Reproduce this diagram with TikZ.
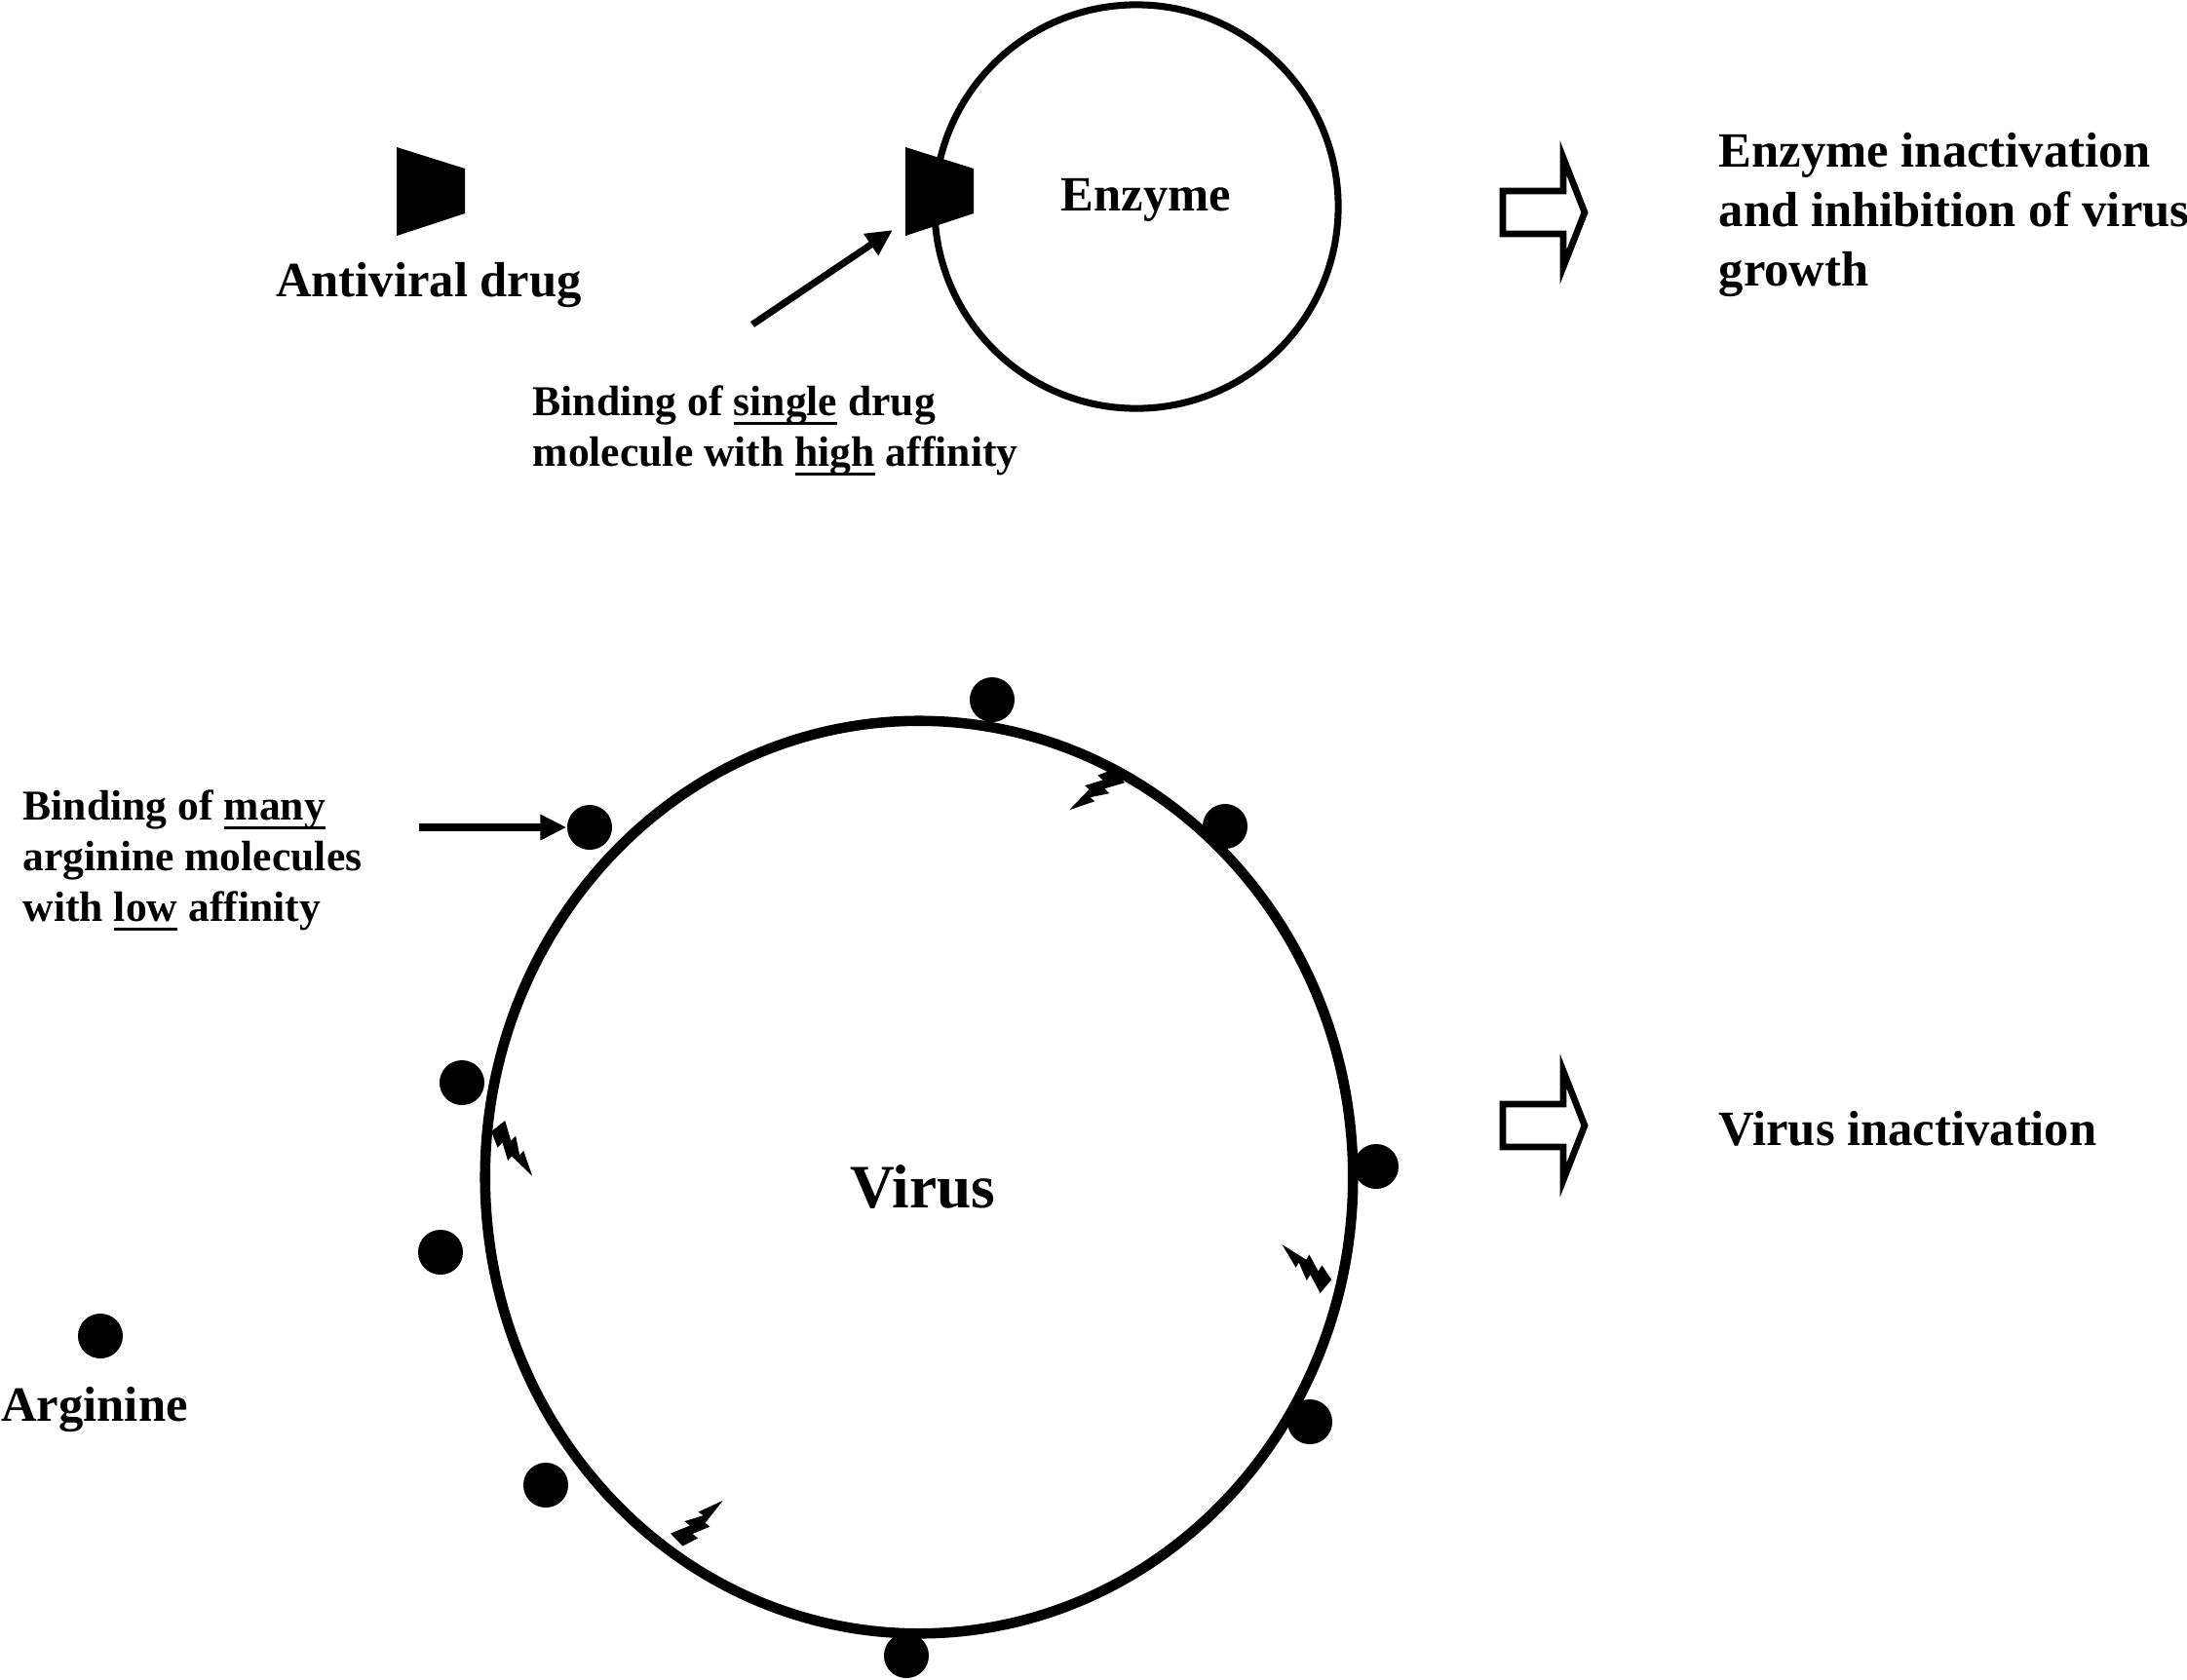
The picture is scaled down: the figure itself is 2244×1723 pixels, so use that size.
\documentclass[tikz,border=0pt]{standalone}
\usepackage{fontspec}
\setmainfont{Liberation Serif}
\usetikzlibrary{arrows.meta,shapes.geometric}
\newcommand{\myul}[1]{\setbox0\hbox{#1}\rlap{\vrule width\wd0 height -0.15em depth 0.21em}#1}
\begin{document}
\begin{tikzpicture}[x=0.01cm,y=-0.01cm,
  lbl/.style={font=\bfseries\fontsize{14.4}{17.3}\selectfont, inner sep=0},
  note/.style={font=\bfseries\fontsize{12.4}{14.8}\selectfont, inner sep=0, align=left},
  bigt/.style={font=\bfseries\fontsize{18}{21}\selectfont, inner sep=0},
  dot/.style={circle, fill=black, minimum size=0.46cm, inner sep=0},
  ptr/.style={line width=2pt, -{Triangle[length=0.27cm,width=0.25cm]}},
  hollow/.pic={\draw[line width=1.9pt, miter limit=10, fill=white]
      (-84,-22) -- (-22,-22) -- (-22,-56) -- (0,0) -- (-22,56) -- (-22,22) -- (-84,22) -- cycle;},
  drug/.pic={\fill (0,0) -- (70,22) -- (70,68) -- (0,91) -- cycle;},
  bolt/.pic={\fill (0cm,0.13cm) -- (0.2cm,0.05cm) -- (0.19cm,0.12cm) -- (0.37cm,0.03cm) -- (0.36cm,0.09cm)
      -- (0.62cm,0cm) -- (0.33cm,-0.04cm) -- (0.34cm,-0.1cm) -- (0.16cm,-0.03cm) -- (0.17cm,-0.1cm)
      -- (0cm,-0.05cm) -- cycle;}
  ]
\useasboundingbox (0,0) rectangle (2244,1723);

% ---------- top row ----------
\pic (freedrug) at (407,151) {drug};
\node[lbl] (antiviral) at (440,293) {Antiviral drug};

\node[circle, draw, line width=2pt, minimum size=4.14cm, inner sep=0] (enzyme) at (1166,212) {};
\node[lbl] (enzymelbl) at (1176,205) {Enzyme};
\pic (bounddrug) at (929,151) {drug};
\coordinate (boundtip) at (916,236);
\coordinate (drugarrstart) at (772,333);
\draw[ptr] (drugarrstart) -- (boundtip);

\node[note, anchor=north west] (single) at (546,395)
  {Binding of \myul{single} drug\\molecule with \myul{high} affinity};

\pic (arrowtop) at (1626,218) {hollow};
\node[lbl, anchor=north west, align=left] (enzres) at (1763,136)
  {Enzyme inactivation\\and inhibition of virus\\growth};

% ---------- bottom row ----------
\node[ellipse, draw, line width=3pt, minimum width=8.9cm, minimum height=9.36cm, inner sep=0] (virus) at (943,1208) {};
\node[bigt] (viruslbl) at (947,1218) {Virus};

\node[dot] (d1) at (1018,718) {};
\node[dot] (d2) at (1257,848) {};
\node[dot] (d3) at (605,849) {};
\node[dot] (d4) at (474,1111) {};
\node[dot] (d5) at (1412,1197) {};
\node[dot] (d6) at (452,1285) {};
\node[dot] (d7) at (1344,1459) {};
\node[dot] (d8) at (560,1524) {};
\node[dot] (d9) at (930,1699) {};
\node[dot] (arg) at (103,1371) {};
\node[lbl] (arglbl) at (97,1446) {Arginine};

\pic[rotate=218] at (1146,793) {bolt};
\pic[rotate=-52] at (508,1158) {bolt};
\pic[rotate=140] at (1363,1317) {bolt};
\pic[rotate=44] at (697,1583) {bolt};

\node[note, anchor=north west] (many) at (23,810)
  {Binding of \myul{many}\\arginine molecules\\with \myul{low} affinity};
\coordinate (manystart) at (430,849);
\draw[ptr] (manystart) -- (d3.west);

\pic (arrowbot) at (1626,1155) {hollow};
\node[lbl, anchor=west] (virres) at (1763,1158) {Virus inactivation};
\end{tikzpicture}
\end{document}
